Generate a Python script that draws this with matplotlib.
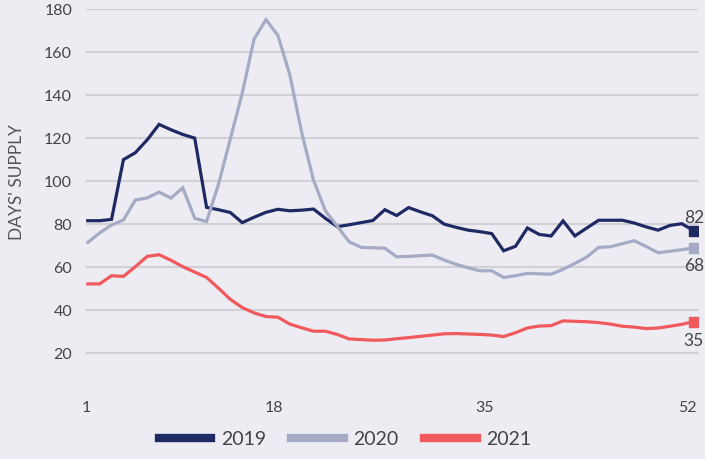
import matplotlib
matplotlib.use("Agg")
import matplotlib.pyplot as plt
import numpy as np

weeks = list(range(1, 53))
y2019 = [81.4, 81.4, 82, 109.8, 113, 119, 126.2, 123.7, 121.5, 119.8,
         87.6, 86.5, 85.2, 80.5, 83, 85.3, 86.7, 86, 86.3, 86.8,
         82.5, 78.6, 79.5, 80.5, 81.5, 86.5, 83.8, 87.5, 85.5, 83.7,
         79.8, 78.3, 77, 76.3, 75.4, 67.4, 69.5, 78, 75, 74.3,
         81.3, 74.3, 78, 81.6, 81.6, 81.6, 80.3, 78.5, 77, 79.2,
         80, 76.7]
y2020 = [71.3, 75.7, 79.4, 81.7, 91, 92, 94.7, 91.9, 96.7, 82.5,
         81, 98.3, 119.5, 140.7, 165.9, 174.9, 167.6, 149.4, 122.5, 100.2,
         86, 78.8, 71.6, 69, 68.8, 68.6, 64.6, 64.8, 65.1, 65.4,
         63.1, 61.1, 59.5, 58.1, 58.1, 55, 55.8, 56.9, 56.7, 56.5,
         58.8, 61.5, 64.5, 69, 69.3, 70.7, 72.1, 69.4, 66.5, 67.2,
         67.9, 68.7]
y2021 = [52, 52, 55.8, 55.5, 60, 64.8, 65.6, 63, 60, 57.5,
         55, 50, 44.8, 41, 38.5, 36.8, 36.5, 33.3, 31.6, 30,
         30, 28.5, 26.4, 26.1, 25.8, 25.9, 26.5, 27, 27.6, 28.2,
         28.8, 28.9, 28.7, 28.5, 28.2, 27.5, 29.3, 31.5, 32.4, 32.6,
         34.8, 34.6, 34.4, 34, 33.3, 32.3, 31.9, 31.2, 31.5, 32.3,
         33.2, 34.5]
series_names = ["2019", "2020", "2021"]
end_labels = ["82", "68", "35"]
x_tick_labels = ["1", "18", "35", "52"]
y_ticks = [20, 40, 60, 80, 100, 120, 140, 160, 180]

colors = ["#1F2A64", "#A5ABC4", "#F05A5D"]
bg = "#EDECF3"
txt = "#444448"
x_tick_pos = [0.85, 16.65, 34.4, 51.5]

plt.rcParams['font.family'] = ['Lato', 'DejaVu Sans']

fig = plt.figure(figsize=(7.05, 4.6), dpi=100, facecolor=bg)
ax = fig.add_axes([86/705, 1-396.7/460, (698-86)/705, (396.7-9.7)/460])
ax.set_facecolor(bg)

for vals, c, name in zip([y2019, y2020, y2021], colors, series_names):
    ax.plot(weeks, vals, color=c, lw=2.3, label=name, solid_joinstyle='miter', zorder=3)
    ax.plot([weeks[-1]], [vals[-1]], marker='s', ms=7.5, color=c, ls='none', zorder=4)

offsets = [(0, 10), (0, -12), (0, -13)]
for vals, lab, off in zip([y2019, y2020, y2021], end_labels, offsets):
    ax.annotate(lab, (weeks[-1], vals[-1]), xytext=off, textcoords='offset points',
                ha='center', va='center', fontsize=12.5, color=txt)

ax.set_xlim(1, 52.36)
ax.set_ylim(0, 180)
ax.set_yticks(y_ticks)
ax.set_xticks(x_tick_pos)
ax.set_xticklabels(x_tick_labels)
ax.tick_params(axis='both', length=0, labelsize=11.5, colors=txt)
ax.tick_params(axis='y', pad=10)
ax.tick_params(axis='x', pad=3)
ax.yaxis.grid(True, color="#D0D0D5", lw=1.5)
ax.set_axisbelow(True)
for s in ax.spines.values():
    s.set_visible(False)

ax.set_ylabel("DAYS' SUPPLY", fontsize=12.5, color="#555558")
ax.yaxis.set_label_coords(-0.1, 0.555)

leg = fig.legend(loc='center', bbox_to_anchor=(345/705, 1-440/460), ncol=3, frameon=False,
                 fontsize=14, handlelength=2.7, handletextpad=0.5, columnspacing=1.3)
for h in leg.get_lines():
    h.set_linewidth(6)
for t in leg.get_texts():
    t.set_color(txt)

fig.savefig("out.png", dpi=100, facecolor=bg)
